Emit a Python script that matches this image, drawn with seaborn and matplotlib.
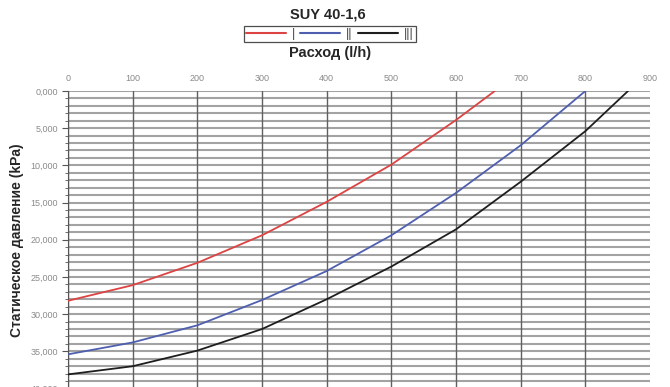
import numpy as np
import pandas as pd
import matplotlib
matplotlib.use("Agg")
import matplotlib.pyplot as plt
from matplotlib.lines import Line2D
import seaborn as sns

# Data (flow l/h -> static pressure kPa)
flow_1 = [0, 100, 200, 300, 400, 500, 600, 660]
pres_1 = [28.2, 26.1, 23.1, 19.4, 14.9, 9.9, 3.9, 0.0]
flow_2 = [0, 100, 200, 300, 400, 500, 600, 700, 800]
pres_2 = [35.4, 33.8, 31.5, 28.1, 24.2, 19.4, 13.7, 7.3, 0.0]
flow_3 = [0, 100, 200, 300, 400, 500, 600, 700, 800, 866]
pres_3 = [38.1, 37.0, 34.9, 32.0, 28.0, 23.6, 18.6, 12.2, 5.4, 0.0]
speeds = ["|", "||", "|||"]
colors = ["#dc4343", "#4f5fb0", "#1e1e1e"]

x_ticks = list(range(0, 1000, 100))
y_ticks = [0, 5, 10, 15, 20, 25, 30, 35, 40]

df = pd.concat([
    pd.DataFrame({"flow": flow_1, "pressure": pres_1, "speed": speeds[0]}),
    pd.DataFrame({"flow": flow_2, "pressure": pres_2, "speed": speeds[1]}),
    pd.DataFrame({"flow": flow_3, "pressure": pres_3, "speed": speeds[2]}),
])

sns.set_style("white")
plt.rcParams["font.family"] = ["Liberation Sans", "DejaVu Sans"]

fig = plt.figure(figsize=(6.7, 3.87), dpi=100)
ax = fig.add_axes([0.1015, -0.004, 0.8687, 0.7689])

# grid
for v in np.arange(0, 41, 1):
    ax.axhline(v, color="#a3a3a3", lw=1.5, zorder=1)
for v in x_ticks[:-1]:
    ax.axvline(v, color="#606060", lw=1.0, zorder=1)

sns.lineplot(data=df, x="flow", y="pressure", hue="speed", palette=colors,
             lw=1.3, ax=ax, legend=False, zorder=3, sort=False)

ax.set_xlim(0, 900)
ax.set_ylim(40, 0)
ax.xaxis.tick_top()
ax.set_xticks(x_ticks)
ax.set_xticklabels([str(v) for v in x_ticks], fontsize=6.5, color="#8a8a8a")
ax.set_yticks(y_ticks)
ax.set_yticklabels([f"{v:.3f}".replace(".", ",") for v in y_ticks],
                   fontsize=6.5, color="#8a8a8a")
ax.set_yticks(np.arange(0, 41, 1), minor=True)
ax.tick_params(axis="x", length=0, pad=6)
ax.tick_params(axis="y", which="major", length=4, width=0.8, color="#555555", pad=3, left=True)
ax.tick_params(axis="y", which="minor", length=2, width=0.6, color="#555555", left=True)
for s in ["top", "right", "bottom"]:
    ax.spines[s].set_visible(False)
ax.spines["left"].set_color("#555555")
ax.spines["left"].set_linewidth(0.8)
ax.set_xlabel("")
ax.set_ylabel("Статическое давление (kPa)", fontsize=10, fontweight="bold",
              labelpad=5)

fig.text(0.49, 0.962, "SUY 40-1,6", ha="center", va="center",
         fontsize=10.5, fontweight="bold")
fig.text(0.493, 0.862, "Расход (l/h)", ha="center", va="center",
         fontsize=10.5, fontweight="bold")

handles = [Line2D([], [], color=c, lw=1.5) for c in colors]
leg = fig.legend(handles, speeds, loc="center", bbox_to_anchor=(0.492, 0.912),
                 ncol=3, frameon=True, fancybox=False, fontsize=9,
                 handlelength=3.2, handletextpad=0.5, columnspacing=0.4,
                 borderpad=0.15, borderaxespad=0)
leg.get_frame().set_edgecolor("#222222")
leg.get_frame().set_linewidth(0.9)
for t in leg.get_texts():
    t.set_color("#444444")

fig.savefig("out.png", dpi=100)
